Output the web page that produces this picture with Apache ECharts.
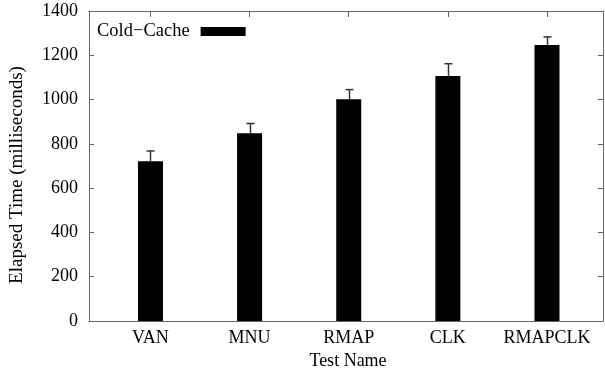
<!DOCTYPE html>
<html>
<head>
<meta charset="utf-8">
<script src="https://cdn.jsdelivr.net/npm/echarts@6/dist/echarts.min.js"></script>
<style>html,body{margin:0;padding:0;background:#fff}#c{width:605px;height:370px}</style>
</head>
<body>
<div id="c"></div>
<script>
var categories = ['VAN', 'MNU', 'RMAP', 'CLK', 'RMAPCLK'];
var coldCache = [722, 848, 1002, 1107, 1247];
var errUpper = [768, 892, 1045, 1162, 1283];
var yTicks = [0, 200, 400, 600, 800, 1000, 1200, 1400];

var FONT = 'Liberation Serif';
var AX = '#666';
var idx = categories.map(function (c, i) { return i; });

var barData = coldCache.map(function (v, i) { return [i, v]; });
var errData = coldCache.map(function (v, i) { return [i, v, errUpper[i]]; });

var chart = echarts.init(document.getElementById('c'), null, { renderer: 'canvas' });
chart.setOption({
  animation: false,
  backgroundColor: '#fff',
  textStyle: { fontFamily: FONT },
  grid: { left: 89, right: 2, top: 11, bottom: 49, containLabel: false, outerBoundsMode: 'none' },
  legend: {
    left: 92, top: 17, align: 'right',
    itemWidth: 45, itemHeight: 9,
    icon: 'rect',
    data: ['Cold\u2212Cache'],
    textStyle: { fontFamily: FONT, fontSize: 18.5, color: '#000', padding: [0, 6, 0, 0] }
  },
  xAxis: [{
    type: 'value', min: -0.62, max: 4.565, position: 'bottom',
    name: 'Test Name', nameLocation: 'middle', nameGap: 27,
    nameTextStyle: { fontFamily: FONT, fontSize: 18, color: '#000', padding: [0, 0, 0, 4] },
    axisLine: { show: true, onZero: false, lineStyle: { color: AX, width: 1 } },
    axisTick: { show: true, inside: true, length: 6, customValues: idx, lineStyle: { color: AX } },
    axisLabel: { customValues: idx, margin: 8, fontFamily: FONT, fontSize: 18, color: '#000',
      formatter: function (v) { return categories[Math.round(v)] || ''; } },
    splitLine: { show: false }
  }, {
    type: 'value', min: -0.62, max: 4.565, position: 'top',
    axisLine: { show: true, onZero: false, lineStyle: { color: AX, width: 1 } },
    axisTick: { show: true, inside: true, length: 6, customValues: idx, lineStyle: { color: AX } },
    axisLabel: { show: false },
    splitLine: { show: false }
  }],
  yAxis: [{
    type: 'value', min: 0, max: 1400, interval: 200, position: 'left',
    name: 'Elapsed Time (milliseconds)', nameLocation: 'middle', nameGap: 62,
    nameTextStyle: { fontFamily: FONT, fontSize: 19, color: '#000', padding: [0, 18, 0, 0] },
    axisLine: { show: true, onZero: false, lineStyle: { color: AX, width: 1 } },
    axisTick: { show: true, inside: true, length: 5, lineStyle: { color: AX } },
    axisLabel: { margin: 11, fontFamily: FONT, fontSize: 18, color: '#000',
      formatter: function (v) { return String(v); } },
    splitLine: { show: false }
  }, {
    type: 'value', min: 0, max: 1400, interval: 200, position: 'right',
    axisLine: { show: true, onZero: false, lineStyle: { color: AX, width: 1 } },
    axisTick: { show: true, inside: true, length: 5, lineStyle: { color: AX } },
    axisLabel: { show: false },
    splitLine: { show: false }
  }],
  series: [{
    name: 'Cold\u2212Cache', type: 'bar', xAxisIndex: 0, yAxisIndex: 0,
    barWidth: 25, data: barData,
    itemStyle: { color: '#000' }, z: 3
  }, {
    type: 'custom', xAxisIndex: 0, yAxisIndex: 0, data: errData, z: 4,
    renderItem: function (params, api) {
      var x = api.value(0);
      var lo = api.coord([x, api.value(1)]);
      var hi = api.coord([x, api.value(2)]);
      var cx = Math.round(lo[0]) + 0.5;
      var hw = 4;
      var st = { stroke: '#333', lineWidth: 1.5 };
      return {
        type: 'group',
        children: [
          { type: 'line', shape: { x1: cx, y1: lo[1], x2: cx, y2: hi[1] }, style: st },
          { type: 'line', shape: { x1: cx - hw, y1: hi[1], x2: cx + hw, y2: hi[1] }, style: st }
        ]
      };
    }
  }]
});
</script>
</body>
</html>
